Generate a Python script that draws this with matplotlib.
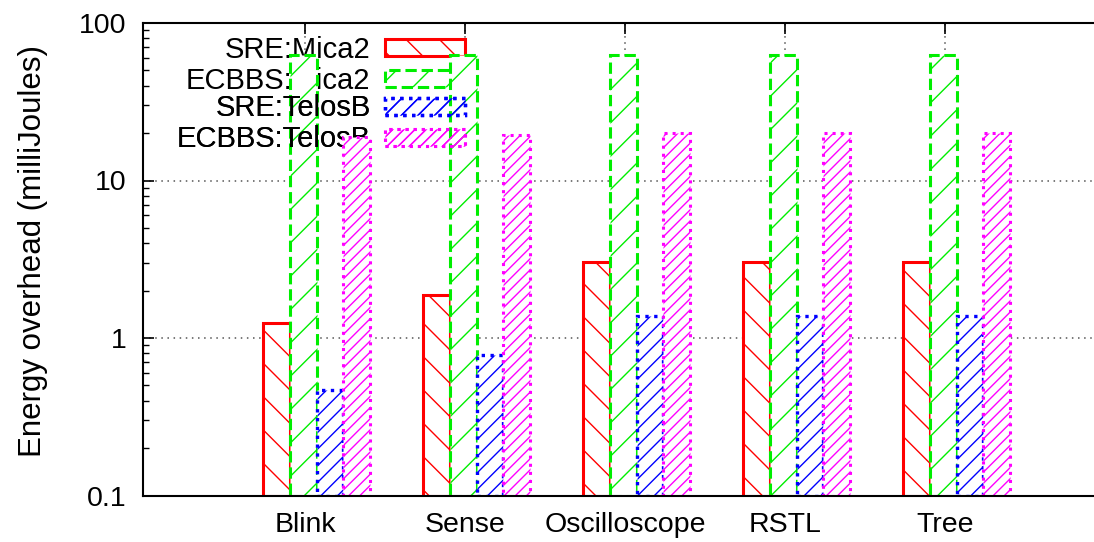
#!/usr/bin/env python3
"""Energy overhead per application, SRE vs ECBBS on Mica2 and TelosB."""

import matplotlib

matplotlib.use("Agg")
import matplotlib.pyplot as plt
import numpy as np
from matplotlib.patches import Patch


APPS = ["Blink", "Sense", "Oscilloscope", "RSTL", "Tree"]
SERIES = ["SRE:Mica2", "ECBBS:Mica2", "SRE:TelosB", "ECBBS:TelosB"]

sre_mica2 = [1.24, 1.87, 3.05, 3.05, 3.05]
ecbbs_mica2 = [63, 63, 63, 63, 63]
sre_telosb = [0.47, 0.78, 1.38, 1.38, 1.38]
ecbbs_telosb = [19.0, 19.5, 19.9, 19.9, 19.9]

YTICKS = [0.1, 1, 10, 100]
YTICK_LABELS = ["0.1", "1", "10", "100"]


def add_key(ax, handles, labels, top_px, zorder):
    # gnuplot draws each key entry right before its own bars
    leg = ax.legend(
        handles=handles,
        labels=labels,
        loc="upper right",
        bbox_to_anchor=((465 - 143) / 951, (495.5 - top_px) / 472.5),
        frameon=False,
        markerfirst=False,
        fontsize=21,
        handlelength=2.74,
        handleheight=0.52,
        handletextpad=0.5,
        labelspacing=0.1,
        borderpad=0,
        borderaxespad=0,
    )
    leg.set_zorder(zorder)
    ax.add_artist(leg)
    return leg


def main() -> None:
    plt.rcParams["font.family"] = ["Liberation Sans", "DejaVu Sans"]
    plt.rcParams["hatch.linewidth"] = 1.0

    fig = plt.figure(figsize=(10.94, 5.42), dpi=100)
    ax = fig.add_axes([143 / 1094, 46.5 / 542, 951 / 1094, 472.5 / 542])

    styles = [
        {"edgecolor": "#ff0000", "hatch": "\\", "linestyle": "-", "linewidth": 2.2},
        {"edgecolor": "#00ee00", "hatch": "/", "linestyle": "--", "linewidth": 2.2},
        {"edgecolor": "#0000ff", "hatch": "//", "linestyle": ":", "linewidth": 2.4},
        {"edgecolor": "#ff00ff", "hatch": "///", "linestyle": ":", "linewidth": 2.2},
    ]
    bar_z = [2.0, 2.1, 2.3, 2.4]
    values = [sre_mica2, ecbbs_mica2, sre_telosb, ecbbs_telosb]
    x = np.arange(len(APPS))
    width = 1 / 6
    start = -0.26

    for j, (vals, st) in enumerate(zip(values, styles)):
        ax.bar(
            x + start + j * width,
            np.array(vals) - 0.1,
            width=width,
            bottom=0.1,
            align="edge",
            facecolor="white",
            zorder=bar_z[j],
            **st,
        )

    keys = [Patch(facecolor="none", **st) for st in styles]
    add_key(ax, keys[:2], SERIES[:2], 36, 1.5)
    add_key(ax, keys[2:], SERIES[2:], 94.5, 2.2)

    ax.set_yscale("log")
    ax.set_ylim(0.1, 100)
    ax.set_xlim((143 - 305) / 160, (1094 - 305) / 160)
    ax.set_yticks(YTICKS)
    ax.set_yticklabels(YTICK_LABELS)
    ax.set_xticks(x)
    ax.set_xticklabels(APPS)

    ax.tick_params(axis="both", which="major", direction="in", length=8,
                   width=1.2, labelsize=20.5, pad=12, top=True)
    ax.tick_params(axis="y", which="minor", direction="in", length=4, width=1.0)
    ax.set_axisbelow(True)
    ax.grid(True, which="major", color="#555555", linestyle=(0, (1, 3)), linewidth=1.1)

    ax.set_ylabel("Energy overhead (milliJoules)", fontsize=22.5)
    ax.yaxis.set_label_coords(-0.1, 0.517)

    ax.spines["right"].set_visible(False)
    for side in ("left", "top", "bottom"):
        ax.spines[side].set_linewidth(1.5)
        ax.spines[side].set_zorder(3)

    fig.savefig("out.png", dpi=100, facecolor="white")
    plt.close(fig)


if __name__ == "__main__":
    main()
